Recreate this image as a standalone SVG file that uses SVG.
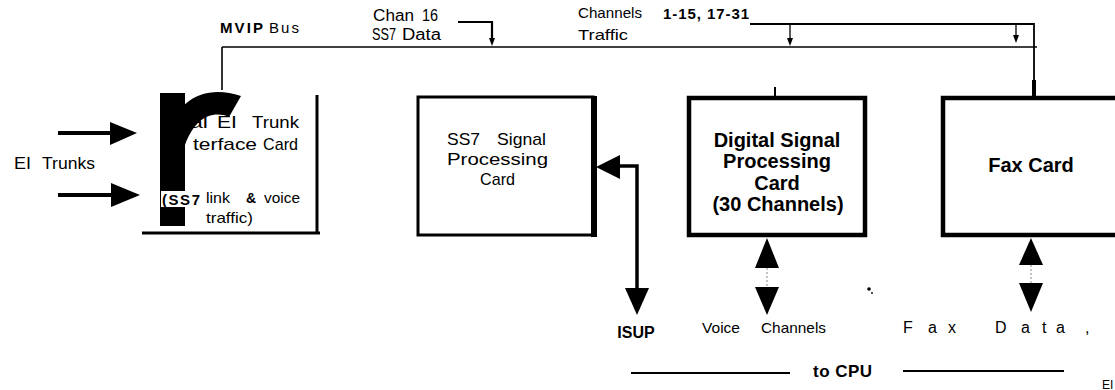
<svg xmlns="http://www.w3.org/2000/svg" width="1115" height="390" viewBox="0 0 1115 390">
<style>
  text { font-family: "Liberation Sans", Arial, sans-serif; fill: #000; }
  .r15 { font-size: 15px; }
  .r16 { font-size: 16px; }
  .r17 { font-size: 17px; }
  .bold { font-weight: bold; }
  .big { font-size: 20px; font-weight: bold; }
  .ln { stroke: #000; fill: none; }
  .blk { fill: #000; stroke: none; }
  .dot { stroke: #888; stroke-width: 1; stroke-dasharray: 2 2; fill: none; }
</style>
<rect width="1115" height="390" fill="#fff"/>

<g id="labels">
  <text class="bold" x="220" y="33" font-size="15" textLength="43" lengthAdjust="spacing">MVIP</text>
  <text class="r15" x="269" y="33" textLength="30" lengthAdjust="spacing">Bus</text>
  <text class="r16" x="373" y="21" textLength="41" lengthAdjust="spacingAndGlyphs">Chan</text>
  <text class="r16" x="422" y="21" textLength="16" lengthAdjust="spacingAndGlyphs">16</text>
  <text class="r16" x="372" y="40" textLength="24" lengthAdjust="spacingAndGlyphs">SS7</text>
  <text class="r16" x="402" y="40" textLength="39" lengthAdjust="spacingAndGlyphs">Data</text>
  <text class="r15" x="578" y="18" textLength="64" lengthAdjust="spacingAndGlyphs">Channels</text>
  <text class="r15" x="578" y="40" textLength="50" lengthAdjust="spacingAndGlyphs">Traffic</text>
  <text class="bold" x="663" y="19" font-size="15" textLength="86" lengthAdjust="spacing">1-15, 17-31</text>
  <text class="r16" x="14" y="169" textLength="17" lengthAdjust="spacingAndGlyphs">EI</text>
  <text class="r16" x="42" y="169" textLength="53" lengthAdjust="spacingAndGlyphs">Trunks</text>
  <text class="bold" x="636" y="338" font-size="16" text-anchor="middle">ISUP</text>
  <text class="r15" x="702" y="333" textLength="38" lengthAdjust="spacingAndGlyphs">Voice</text>
  <text class="r15" x="761" y="333" textLength="65" lengthAdjust="spacingAndGlyphs">Channels</text>
  <text class="r16" x="903 928 948 995 1021 1042 1056 1085" y="333">FaxData,</text>
  <text class="bold" x="813" y="377" font-size="17" textLength="59" lengthAdjust="spacing">to CPU</text>
  <text x="1102" y="389" font-size="12">EI</text>
  <circle cx="869" cy="289" r="1.8" class="blk"/>
  <circle cx="872" cy="293" r="0.9" class="blk"/>
</g>

<g id="e1-card">
  <rect class="blk" x="160" y="93" width="25" height="133"/>
  <path class="blk" d="M168,132 C178,100 205,84 241,96 L229,117 C212,110 195,118 185,145 Z"/>
  <line class="ln" x1="317" y1="95" x2="317" y2="234" stroke-width="3"/>
  <line class="ln" x1="142" y1="233" x2="320" y2="233" stroke-width="3"/>
  <text class="r17" x="190" y="128" textLength="18" lengthAdjust="spacingAndGlyphs">al</text>
  <text class="r17" x="217" y="128" textLength="20" lengthAdjust="spacingAndGlyphs">EI</text>
  <text class="r17" x="252" y="128" textLength="47" lengthAdjust="spacingAndGlyphs">Trunk</text>
  <text class="r17" x="193" y="150" textLength="64" lengthAdjust="spacingAndGlyphs">terface</text>
  <text class="r17" x="263" y="150" textLength="35" lengthAdjust="spacingAndGlyphs">Card</text>
  <rect x="161" y="191" width="39" height="16" fill="#fff"/>
  <text class="bold" x="162" y="205" font-size="15" textLength="38" lengthAdjust="spacing">(SS7</text>
  <text class="r15" x="206" y="203" textLength="24" lengthAdjust="spacingAndGlyphs">link</text>
  <text class="bold" x="246" y="203" font-size="14">&amp;</text>
  <text class="r15" x="264" y="203" textLength="36" lengthAdjust="spacingAndGlyphs">voice</text>
  <text class="r15" x="206" y="223" textLength="47" lengthAdjust="spacingAndGlyphs">traffic)</text>
</g>

<g id="ss7-card">
  <rect class="ln" x="418" y="97" width="175" height="138" stroke-width="3"/>
  <line class="ln" x1="594" y1="96" x2="594" y2="237" stroke-width="6"/>
  <text class="r17" x="447" y="145" textLength="33" lengthAdjust="spacingAndGlyphs">SS7</text>
  <text class="r17" x="497" y="145" textLength="49" lengthAdjust="spacingAndGlyphs">Signal</text>
  <text class="r17" x="447" y="165" textLength="101" lengthAdjust="spacingAndGlyphs">Processing</text>
  <text class="r17" x="480" y="185" textLength="35" lengthAdjust="spacingAndGlyphs">Card</text>
</g>

<g id="dsp-card">
  <rect class="ln" x="689" y="98" width="176" height="137" stroke-width="4.5"/>
  <text class="big" x="777" y="147" text-anchor="middle">Digital Signal</text>
  <text class="big" x="777" y="168" text-anchor="middle">Processing</text>
  <text class="big" x="777" y="190" text-anchor="middle">Card</text>
  <text class="big" x="778" y="211" text-anchor="middle">(30 Channels)</text>
</g>

<g id="fax-card">
  <path class="ln" d="M1120,98 L943,98 L943,235 L1120,235" stroke-width="4.5"/>
  <text class="big" x="1031" y="172" text-anchor="middle">Fax Card</text>
</g>

<g id="connectors">
  <line class="ln" x1="222" y1="47" x2="1037" y2="47" stroke-width="1.6"/>
  <line class="ln" x1="222" y1="47" x2="222" y2="90" stroke-width="1.6"/>
  <polyline class="ln" points="750,24 1034,24 1034,82" stroke-width="1.8"/>
  <line class="ln" x1="1034" y1="80" x2="1034" y2="97" stroke-width="4"/>
  <line class="ln" x1="790" y1="24" x2="790" y2="40" stroke-width="1.3"/>
  <polygon class="blk" points="787,38 793,38 790,46"/>
  <line class="ln" x1="1016" y1="24" x2="1016" y2="37" stroke-width="1.3"/>
  <polygon class="blk" points="1013,35 1019,35 1016,43"/>
  <polyline class="ln" points="458,22 492,22 492,40" stroke-width="2.2"/>
  <polygon class="blk" points="489,38 495,38 492,46"/>
  <line class="ln" x1="775" y1="87" x2="775" y2="97" stroke-width="2"/>
  <line class="ln" x1="58" y1="133" x2="112" y2="133" stroke-width="4"/>
  <polygon class="blk" points="110,122 137,133 110,145"/>
  <line class="ln" x1="58" y1="195" x2="113" y2="195" stroke-width="4"/>
  <polygon class="blk" points="111,183 140,195 111,207"/>
  <polyline class="ln" points="618,166 637,166 637,290" stroke-width="3.5"/>
  <polygon class="blk" points="596,167 620,155 620,179"/>
  <polygon class="blk" points="625,288 649,288 637,315"/>
  <polygon class="blk" points="767,238 779,268 755,268"/>
  <line class="dot" x1="767" y1="268" x2="767" y2="287"/>
  <polygon class="blk" points="755,287 779,287 767,315"/>
  <polygon class="blk" points="1031,238 1043,265 1019,265"/>
  <line class="dot" x1="1031" y1="265" x2="1031" y2="283"/>
  <polygon class="blk" points="1019,283 1043,283 1031,312"/>
  <line class="ln" x1="631" y1="373" x2="790" y2="373" stroke-width="2"/>
  <line class="ln" x1="903" y1="371" x2="1064" y2="371" stroke-width="2"/>
</g>
</svg>
